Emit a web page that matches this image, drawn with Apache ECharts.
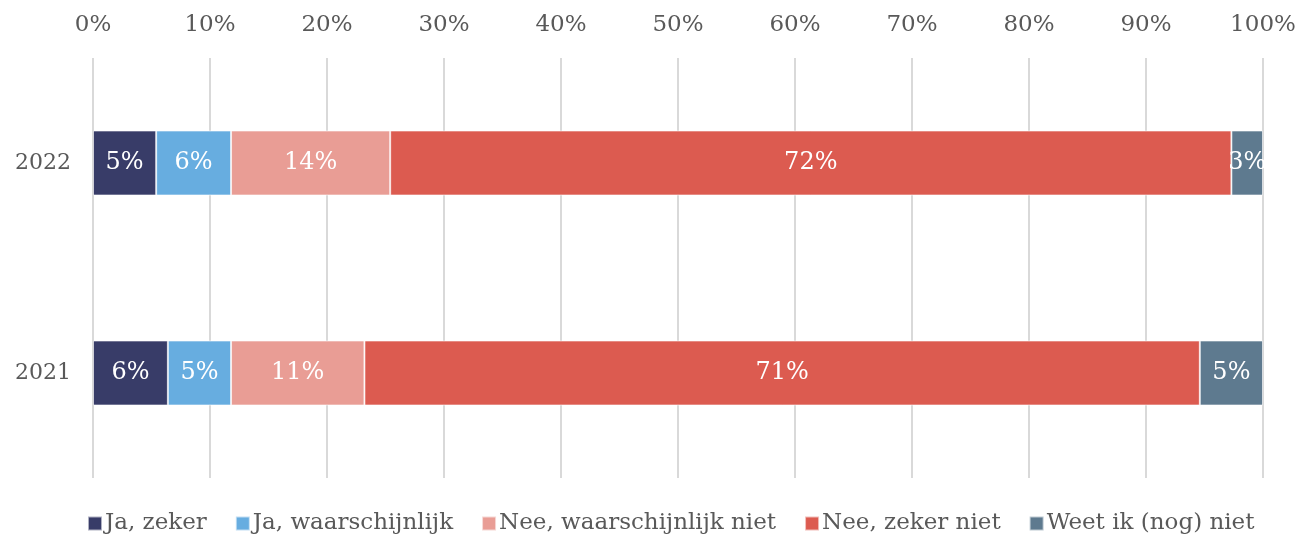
<!DOCTYPE html>
<html><head><meta charset="utf-8">
<script src="https://cdn.jsdelivr.net/npm/echarts@6/dist/echarts.min.js"></script>
<style>html,body{margin:0;padding:0;background:#fff}#c{width:1300px;height:540px}</style>
</head><body><div id="c"></div>
<script>
const years = ['2021', '2022'];
const seriesNames = ['Ja, zeker', 'Ja, waarschijnlijk', 'Nee, waarschijnlijk niet', 'Nee, zeker niet', 'Weet ik (nog) niet'];
const jaZeker = [6.4, 5.4];
const jaWaarschijnlijk = [5.4, 6.4];
const neeWaarschijnlijkNiet = [11.4, 13.6];
const neeZekerNiet = [71.4, 71.9];
const weetIkNiet = [5.4, 2.7];
const tickLabels = ['0%', '10%', '20%', '30%', '40%', '50%', '60%', '70%', '80%', '90%', '100%'];
const colors = ['#383c68', '#67ade0', '#e99d95', '#dc5b50', '#5e7a8f'];

const allData = [jaZeker, jaWaarschijnlijk, neeWaarschijnlijkNiet, neeZekerNiet, weetIkNiet];
const font = 'DejaVu Serif';
const chart = echarts.init(document.getElementById('c'));
chart.setOption({
  animation: false,
  textStyle: { fontFamily: font },
  grid: { left: 93, right: 37, top: 58, bottom: 62 },
  xAxis: {
    type: 'value', position: 'top', min: 0, max: 100, interval: 10,
    axisLine: { show: false }, axisTick: { show: false },
    splitLine: { lineStyle: { color: '#d9d9d9', width: 2 } },
    axisLabel: { color: '#595959', fontSize: 23, fontFamily: font, margin: 21,
      formatter: v => tickLabels[Math.round(v / 10)] }
  },
  yAxis: {
    type: 'category', data: years,
    axisLine: { show: false }, axisTick: { show: false },
    axisLabel: { color: '#595959', fontSize: 22, fontFamily: font, margin: 22 }
  },
  legend: {
    bottom: 0, left: 82, itemWidth: 14, itemHeight: 14, itemGap: 28,
    icon: 'rect',
    textStyle: { color: '#595959', fontSize: 23, fontFamily: font, padding: [0, 0, 0, -2] },
    data: seriesNames
  },
  series: seriesNames.map((n, i) => ({
    name: n, type: 'bar', stack: 'total', barWidth: 65,
    data: allData[i],
    itemStyle: { color: colors[i], borderColor: 'rgba(255,255,255,0.6)', borderWidth: 1 },
    label: { show: true, position: 'inside', color: '#fff', fontSize: 24, fontFamily: font,
      formatter: p => Math.round(p.value) + '%' }
  }))
});
</script></body></html>
